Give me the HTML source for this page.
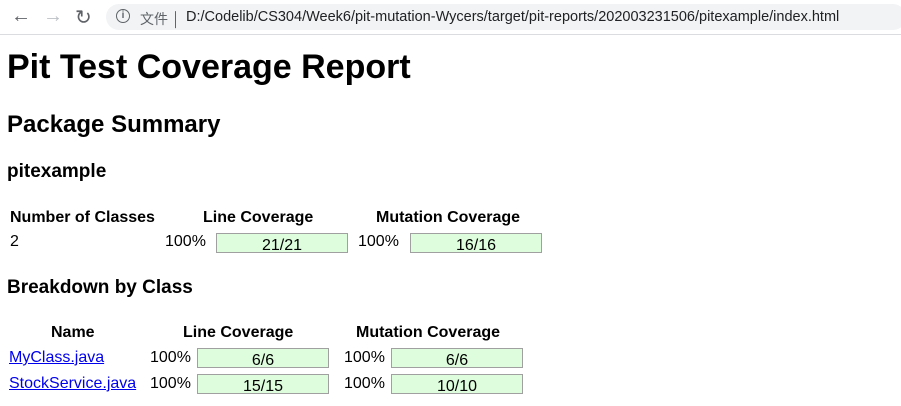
<!DOCTYPE html>
<html><head><meta charset="utf-8"><style>
body{margin:0;width:901px;height:406px;background:#fff;font-family:"Liberation Sans","Noto Sans CJK SC",sans-serif;color:#000;position:relative;overflow:hidden}
.a{position:absolute;white-space:nowrap}
.t{font-size:16px;line-height:20px}
.b{font-weight:bold}
.bar{position:absolute;width:130px;height:18px;background:#ddfddd;border:1px solid #a0a0a0;font-size:16px;line-height:23px;text-align:center}
a{color:#0000ee;text-decoration:underline}
</style></head><body>
<div class="a" style="left:0;top:0;width:901px;height:34px;background:#fff;border-bottom:1px solid #dadce0"></div>
<div class="a" style="left:11px;top:5px;font-size:20px;color:#5f6368">←</div>
<div class="a" style="left:43px;top:5px;font-size:20px;color:#bdc1c6">→</div>
<div class="a" style="left:75px;top:5px;font-size:20px;color:#5f6368">↻</div>
<div class="a" style="left:106px;top:4px;width:800px;height:26px;border-radius:13px;background:#f1f3f4"></div>
<div class="a" style="left:116px;top:9px;width:12px;height:12px;border:1.5px solid #5f6368;border-radius:50%;font-size:10px;line-height:12px;text-align:center;color:#5f6368;font-weight:bold">i</div>
<div class="a" style="left:140px;top:9px;font-size:14px;color:#5f6368">文件 │</div>
<div class="a" style="left:186px;top:9px;font-size:14.5px;color:#202124">D:/Codelib/CS304/Week6/pit-mutation-Wycers/target/pit-reports/202003231506/pitexample/index.html</div>

<div class="a b" style="left:7px;top:47px;font-size:34px;line-height:40px">Pit Test Coverage Report</div>
<div class="a b" style="left:7px;top:110px;font-size:24px;line-height:30px">Package Summary</div>
<div class="a b" style="left:7px;top:160px;font-size:19px;line-height:24px">pitexample</div>

<div class="a t b" style="left:10px;top:208px">Number of Classes</div>
<div class="a t b" style="left:203px;top:208px">Line Coverage</div>
<div class="a t b" style="left:376px;top:208px">Mutation Coverage</div>
<div class="a t" style="left:10px;top:232px">2</div>
<div class="a t" style="left:165px;top:232px">100%</div>
<div class="bar" style="left:216px;top:233px">21/21</div>
<div class="a t" style="left:358px;top:232px">100%</div>
<div class="bar" style="left:410px;top:233px">16/16</div>

<div class="a b" style="left:7px;top:276px;font-size:19px;line-height:24px">Breakdown by Class</div>

<div class="a t b" style="left:51px;top:323px">Name</div>
<div class="a t b" style="left:183px;top:323px">Line Coverage</div>
<div class="a t b" style="left:356px;top:323px">Mutation Coverage</div>

<div class="a t" style="left:9px;top:348px"><a>MyClass.java</a></div>
<div class="a t" style="left:150px;top:348px">100%</div>
<div class="bar" style="left:197px;top:348px">6/6</div>
<div class="a t" style="left:344px;top:348px">100%</div>
<div class="bar" style="left:391px;top:348px">6/6</div>

<div class="a t" style="left:9px;top:374px"><a>StockService.java</a></div>
<div class="a t" style="left:150px;top:374px">100%</div>
<div class="bar" style="left:197px;top:374px">15/15</div>
<div class="a t" style="left:344px;top:374px">100%</div>
<div class="bar" style="left:391px;top:374px">10/10</div>
</body></html>
